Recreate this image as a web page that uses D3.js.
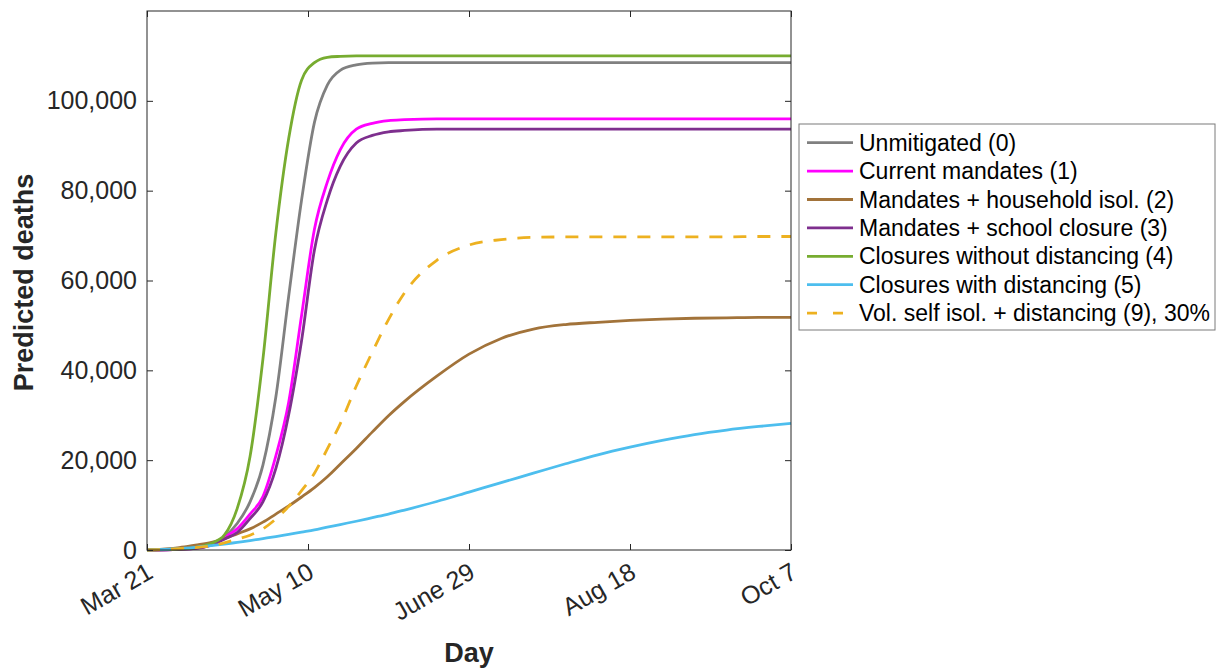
<!DOCTYPE html>
<html>
<head>
<meta charset="utf-8">
<script src="https://cdn.jsdelivr.net/npm/d3@7"></script>
<style>
  body { margin: 0; background: #fff; }
  svg { display: block; font-family: "Liberation Sans", Helvetica, Arial, sans-serif; }
</style>
</head>
<body>
<svg id="chart" width="1223" height="669"></svg>
<script>
// days since Mar 21
var days = [0, 10, 15, 20, 24, 28, 32, 36, 40, 44, 48, 52, 56, 60, 65, 70, 75, 80, 90, 100, 110, 120, 130, 140, 150, 160, 170, 180, 190, 200];

var unmitigated = [0, 150, 400, 1200, 2900, 5900, 10700, 18900, 34000, 56500, 77900, 95200, 103500, 106800, 108000, 108400, 108500, 108500, 108500, 108500, 108500, 108500, 108500, 108500, 108500, 108500, 108500, 108500, 108500, 108500];
var currentMandates = [0, 150, 350, 1200, 2800, 4700, 8000, 11900, 20900, 32900, 52200, 71400, 81900, 89100, 93700, 95000, 95600, 95800, 96000, 96000, 96000, 96000, 96000, 96000, 96000, 96000, 96000, 96000, 96000, 96000];
var householdIsol = [0, 550, 1100, 1700, 2500, 3600, 4700, 6200, 8000, 9800, 11800, 13900, 16300, 19100, 22600, 26300, 29900, 33100, 38700, 43600, 47100, 49200, 50200, 50700, 51100, 51400, 51600, 51700, 51800, 51800];
var schoolClosure = [0, 150, 350, 1100, 2400, 3900, 7000, 10700, 18100, 30100, 46600, 66800, 77900, 85400, 90600, 92300, 93100, 93400, 93700, 93700, 93700, 93700, 93700, 93700, 93700, 93700, 93700, 93700, 93700, 93700];
var closuresNoDist = [0, 200, 550, 1500, 3300, 9200, 20800, 42500, 70500, 91600, 104600, 108500, 109700, 109900, 110000, 110000, 110000, 110000, 110000, 110000, 110000, 110000, 110000, 110000, 110000, 110000, 110000, 110000, 110000, 110000];
var closuresDist = [0, 300, 600, 950, 1300, 1700, 2100, 2550, 3000, 3500, 4000, 4500, 5100, 5650, 6400, 7200, 8000, 8900, 10800, 12900, 15000, 17100, 19200, 21200, 22900, 24400, 25700, 26700, 27500, 28200];
var volSelfIsol = [0, 300, 550, 900, 1600, 2400, 3300, 4700, 6900, 9700, 13200, 17100, 22500, 28100, 36500, 44100, 51300, 57300, 64500, 67900, 69100, 69600, 69700, 69700, 69700, 69700, 69700, 69700, 69800, 69800];

var seriesNames = ["Unmitigated (0)", "Current mandates (1)", "Mandates + household isol. (2)", "Mandates + school closure (3)", "Closures without distancing (4)", "Closures with distancing (5)", "Vol. self isol. + distancing (9), 30%"];
var seriesColors = ["#808080", "#ff00ff", "#a2733a", "#7e2f8e", "#77ac30", "#4dbeee", "#edb120"];
var seriesValues = [unmitigated, currentMandates, householdIsol, schoolClosure, closuresNoDist, closuresDist, volSelfIsol];

var xTickDays = [0, 50, 100, 150, 200];
var xTickLabels = ["Mar 21", "May 10", "June 29", "Aug 18", "Oct 7"];
var yTicks = [0, 20000, 40000, 60000, 80000, 100000];

var svg = d3.select("#chart");
var plotL = 147, plotR = 791, plotT = 11, plotB = 550;

var x = d3.scaleLinear().domain([0, 200]).range([plotL, plotR]);
var y = d3.scaleLinear().domain([0, 120000]).range([plotB, plotT]);

var axisColor = "#262626";

// lines
var line = d3.line()
  .x(function(d) { return x(d[0]); })
  .y(function(d) { return y(d[1]); })
  .curve(d3.curveMonotoneX);

var plot = svg.append("g");
seriesValues.forEach(function(vals, i) {
  var pts = days.map(function(d, j) { return [d, vals[j]]; });
  plot.append("path")
    .attr("d", line(pts))
    .attr("fill", "none")
    .attr("stroke", seriesColors[i])
    .attr("stroke-width", 2.8)
    .attr("stroke-dasharray", i == 6 ? "13,11" : null);
});

// axes, ticks pointing inwards on all four sides
var gx = svg.append("g")
  .attr("transform", "translate(0," + plotB + ")")
  .call(d3.axisBottom(x).tickValues(xTickDays).tickSizeInner(-6).tickSizeOuter(0).tickFormat(""));
var gxTop = svg.append("g")
  .attr("transform", "translate(0," + plotT + ")")
  .call(d3.axisTop(x).tickValues(xTickDays).tickSizeInner(-6).tickSizeOuter(0).tickFormat(""));
var gy = svg.append("g")
  .attr("transform", "translate(" + plotL + ",0)")
  .call(d3.axisLeft(y).tickValues(yTicks).tickSizeInner(-6).tickSizeOuter(0).tickPadding(10).tickFormat(d3.format(",")));
var gyRight = svg.append("g")
  .attr("transform", "translate(" + plotR + ",0)")
  .call(d3.axisRight(y).tickValues(yTicks).tickSizeInner(-6).tickSizeOuter(0).tickFormat(""));

svg.selectAll(".domain").remove();
svg.append("rect")
  .attr("x", plotL).attr("y", plotT)
  .attr("width", plotR - plotL).attr("height", plotB - plotT)
  .attr("fill", "none").attr("stroke", axisColor).attr("stroke-width", 1);

svg.selectAll(".tick line").attr("stroke", axisColor);
gy.selectAll(".tick text")
  .attr("font-size", 25)
  .attr("fill", axisColor)
  .attr("font-family", "Liberation Sans, Helvetica, Arial, sans-serif");

// rotated x tick labels
svg.append("g").selectAll("text")
  .data(xTickDays)
  .join("text")
  .attr("transform", function(d) { return "translate(" + (x(d) + 3) + "," + (plotB + 19) + ") rotate(-30)"; })
  .attr("text-anchor", "end")
  .attr("dominant-baseline", "central")
  .attr("font-size", 25)
  .attr("fill", axisColor)
  .text(function(d, i) { return xTickLabels[i]; });

// axis labels
svg.append("text")
  .attr("x", (plotL + plotR) / 2)
  .attr("y", 662)
  .attr("text-anchor", "middle")
  .attr("font-size", 27)
  .attr("font-weight", "bold")
  .attr("fill", axisColor)
  .text("Day");

svg.append("text")
  .attr("transform", "translate(33," + ((plotT + plotB) / 2 + 2) + ") rotate(-90)")
  .attr("text-anchor", "middle")
  .attr("font-size", 27)
  .attr("font-weight", "bold")
  .attr("fill", axisColor)
  .text("Predicted deaths");

// legend
var legend = svg.append("g");
legend.append("rect")
  .attr("x", 799).attr("y", 124)
  .attr("width", 416).attr("height", 206)
  .attr("fill", "#fff").attr("stroke", "#7a7a7a").attr("stroke-width", 1);

var rows = legend.selectAll("g.row")
  .data(seriesNames)
  .join("g")
  .attr("class", "row")
  .attr("transform", function(d, i) { return "translate(0," + (142.7 + i * 28.4) + ")"; });

rows.append("line")
  .attr("x1", 807).attr("x2", 853)
  .attr("stroke", function(d, i) { return seriesColors[i]; })
  .attr("stroke-width", 2.8)
  .attr("stroke-dasharray", function(d, i) { return i == 6 ? "10,16" : null; });

rows.append("text")
  .attr("x", 859)
  .attr("dominant-baseline", "central")
  .attr("font-size", 23)
  .attr("fill", "#000")
  .text(function(d) { return d; });
</script>
</body>
</html>
